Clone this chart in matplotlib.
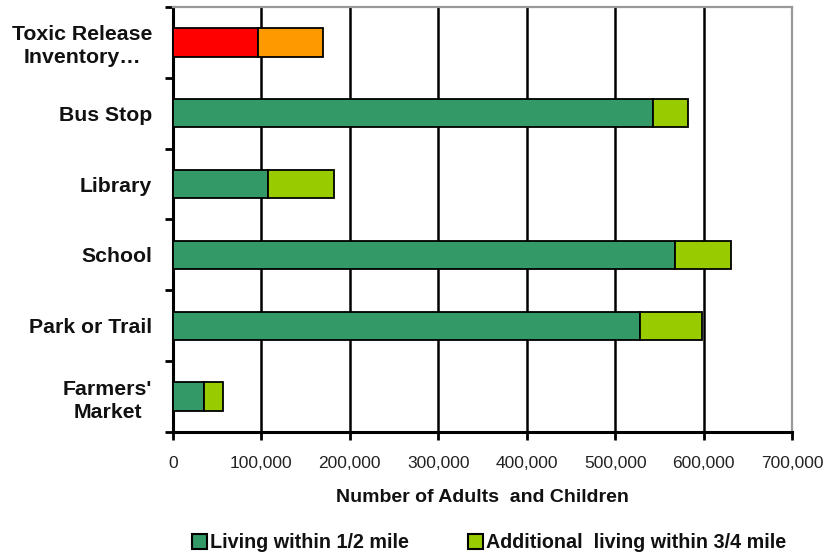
import matplotlib
matplotlib.use("Agg")
import matplotlib.pyplot as plt
import numpy as np
from matplotlib.patches import Patch

# Data, top to bottom.
categories = ["Toxic Release\nInventory…", "Bus Stop", "Library", "School", "Park or Trail", "Farmers'\nMarket"]
within_half_mile = [96000, 543000, 108000, 568000, 528000, 35000]
additional_three_quarter = [74000, 39000, 74000, 63000, 70000, 22000]
x_ticks = [0, 100000, 200000, 300000, 400000, 500000, 600000, 700000]

# Colours of the segments.
GREEN = "#339966"
LIME = "#99CC00"
RED = "#FF0000"
ORANGE = "#FF9900"


# Function drawing the stacked horizontal bars.
def draw_bars(ax) -> None:
    y = np.arange(len(categories))
    first_colors = [RED if i == 0 else GREEN for i in range(len(categories))]
    second_colors = [ORANGE if i == 0 else LIME for i in range(len(categories))]
    ax.barh(y, within_half_mile, height=0.4, color=first_colors,
            edgecolor="black", linewidth=1.3, zorder=3)
    ax.barh(y, additional_three_quarter, left=within_half_mile, height=0.4,
            color=second_colors, edgecolor="black", linewidth=1.3, zorder=3)


# Function setting up axes, ticks and grid.
def style_axes(ax) -> None:
    n = len(categories)
    ax.set_ylim(n - 0.5, -0.5)
    ax.set_xlim(0, 700000)
    ax.set_yticks(np.arange(n))
    ax.set_yticklabels(categories, fontsize=15.3, fontweight="bold",
                       linespacing=1.27, multialignment="center", color="#111111")
    ax.set_yticks(np.arange(n + 1) - 0.5, minor=True)
    ax.tick_params(axis="y", which="major", length=0, pad=15)
    ax.tick_params(axis="y", which="minor", length=6, width=2, direction="out")

    ax.set_xticks(x_ticks)
    ax.set_xticklabels(["{:,}".format(v) for v in x_ticks], fontsize=12.5, color="#222222")
    ax.tick_params(axis="x", length=6, width=2, direction="out", pad=11)
    ax.set_xlabel("Number of Adults  and Children", fontsize=14, fontweight="bold",
                  labelpad=13, color="#111111")

    ax.grid(axis="x", color="black", linewidth=1.8, zorder=0)
    ax.set_axisbelow(True)

    ax.spines["left"].set_linewidth(2.2)
    ax.spines["bottom"].set_linewidth(2.2)
    for side in ("top", "right"):
        ax.spines[side].set_color("#999999")
        ax.spines[side].set_linewidth(1.6)


# Function drawing the legend under the chart.
def draw_legend(fig) -> None:
    handles = [
        Patch(facecolor=GREEN, edgecolor="black", linewidth=1.5),
        Patch(facecolor=LIME, edgecolor="black", linewidth=1.5),
    ]
    labels = ["Living within 1/2 mile", "Additional  living within 3/4 mile"]
    fig.legend(handles, labels, loc="center", bbox_to_anchor=(0.589, 0.02), ncol=2,
               frameon=False, handlelength=0.75, handleheight=0.75, handletextpad=0.15,
               columnspacing=3.0, borderpad=0, prop={"weight": "bold", "size": 14.2},
               labelcolor="#111111")


# Program entry point.
def main() -> None:
    plt.rcParams["font.family"] = ["Liberation Sans", "DejaVu Sans"]
    fig = plt.figure(figsize=(8.3, 5.54), dpi=100)
    ax = fig.add_axes([0.2084, 0.2202, 0.7458, 0.7672])
    draw_bars(ax)
    style_axes(ax)
    draw_legend(fig)
    fig.savefig("out.png", dpi=100)


if __name__ == "__main__":
    main()
